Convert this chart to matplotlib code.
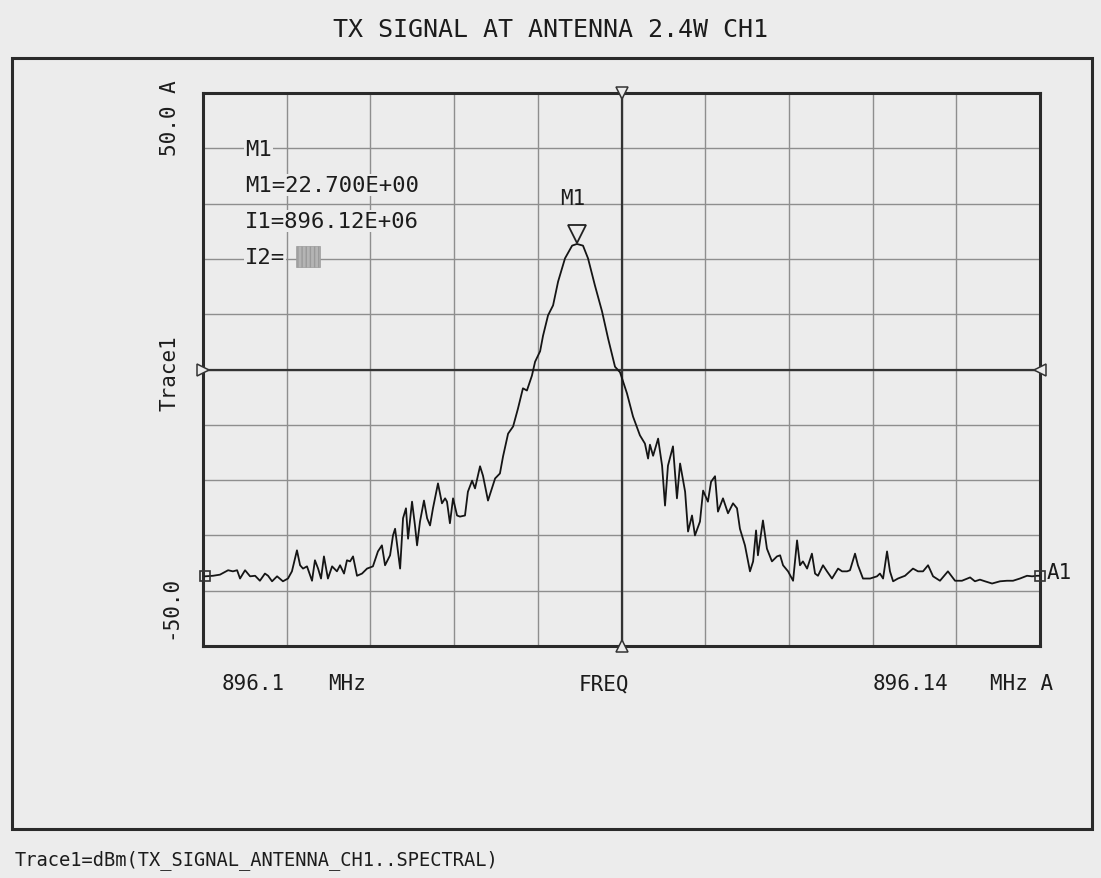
import numpy as np
import matplotlib
matplotlib.use("Agg")
import matplotlib.pyplot as plt
import matplotlib.patches as patches
import matplotlib.transforms as mtransforms

W, H = 1101, 879

# trace: offset from 896.10 MHz in kHz, level in dBm
offset_khz = [
    0.10, 0.48, 0.81, 1.20, 1.43, 1.63, 1.77, 2.01, 2.25, 2.49, 2.72, 2.96, 3.11, 3.30, 3.54, 3.82,
    4.06, 4.25, 4.49, 4.64, 4.78, 4.97, 5.21, 5.35, 5.50, 5.64, 5.78, 5.97, 6.17, 6.40, 6.55, 6.74,
    6.88, 7.03, 7.17, 7.36, 7.60, 7.84, 8.12, 8.36, 8.55, 8.70, 8.94, 9.08, 9.18, 9.42, 9.56, 9.70,
    9.80, 9.99, 10.13, 10.23, 10.37, 10.56, 10.71, 10.85, 10.99, 11.23, 11.42, 11.57, 11.66, 11.80,
    11.95, 12.14, 12.28, 12.52, 12.66, 12.86, 13.00, 13.24, 13.38, 13.62, 13.81, 13.96, 14.19, 14.34,
    14.58, 14.82, 15.05, 15.29, 15.48, 15.72, 15.87, 16.11, 16.25, 16.49, 16.73, 16.97, 17.30, 17.64,
    17.87, 18.16, 18.40, 18.73, 19.07, 19.36, 19.69, 19.93, 20.26, 20.55, 20.88, 21.12, 21.27, 21.36,
    21.51, 21.75, 21.94, 22.08, 22.22, 22.46, 22.65, 22.80, 23.04, 23.18, 23.37, 23.51, 23.75, 23.90,
    24.13, 24.28, 24.47, 24.61, 24.85, 25.09, 25.33, 25.52, 25.66, 25.90, 26.14, 26.29, 26.43, 26.52,
    26.76, 26.95, 27.19, 27.43, 27.58, 27.72, 27.96, 28.20, 28.39, 28.53, 28.67, 28.87, 29.10, 29.25,
    29.39, 29.63, 29.82, 30.06, 30.35, 30.54, 30.78, 30.92, 31.16, 31.30, 31.54, 31.88, 32.21, 32.35,
    32.50, 32.69, 32.83, 32.98, 33.21, 33.55, 33.93, 34.17, 34.41, 34.65, 34.89, 35.22, 35.60, 35.94,
    36.27, 36.66, 36.89, 37.13, 37.37, 37.71, 38.09, 38.42, 38.71, 39.04, 39.38, 39.62, 39.86, 40.00,
]
level_dbm = [
    -37.4, -37.3, -37.1, -36.3, -36.5, -36.3, -37.8, -36.3, -37.4, -37.3, -38.2, -36.9, -37.3, -38.3, -37.4, -38.3,
    -37.8, -36.5, -32.7, -35.4, -36.0, -35.6, -38.2, -34.5, -36.0, -37.8, -33.8, -37.8, -35.6, -36.5, -35.4, -36.9,
    -34.5, -34.7, -33.8, -37.3, -36.9, -36.0, -35.6, -32.9, -31.8, -35.4, -33.6, -30.0, -28.8, -36.0, -26.9, -25.1,
    -30.6, -23.9, -28.2, -31.8, -27.5, -23.7, -26.9, -28.2, -25.1, -20.6, -24.2, -23.3, -23.9, -27.8,
    -23.3, -26.4, -26.6, -26.4, -22.1, -20.1, -21.5, -17.5, -19.2, -23.7, -21.5, -19.7, -18.8, -15.7,
    -11.6, -10.3, -7.1, -3.4, -3.8, -1.1, 1.4, 3.3, 6.1, 9.8, 11.6, 15.9, 20.1, 22.4,
    22.7, 22.4, 20.1, 15.2, 10.5, 5.6, 0.5, -0.5, -4.3, -8.5, -11.9, -13.4, -16.1, -13.6,
    -15.6, -12.5, -17.4, -24.6, -17.4, -13.9, -23.3, -17.0, -22.1, -29.3, -26.4, -30.0, -27.5, -21.9,
    -23.9, -20.3, -19.3, -25.7, -23.3, -26.0, -24.2, -25.1, -28.8, -31.8, -36.5, -34.7, -29.1, -33.6,
    -27.3, -32.4, -34.7, -33.8, -33.6, -35.4, -36.5, -38.2, -30.9, -35.4, -34.7, -36.0, -33.3, -36.9,
    -37.3, -35.4, -36.5, -37.8, -36.0, -36.5, -36.5, -36.3, -33.3, -35.4, -37.8, -37.8, -37.4, -36.9,
    -37.8, -32.9, -36.5, -38.3, -37.8, -37.3, -36.0, -36.5, -36.5, -35.4, -37.4, -38.2, -36.5, -38.2,
    -38.2, -37.6, -38.3, -38.0, -38.3, -38.7, -38.3, -38.2, -38.2, -37.8, -37.3, -37.4, -37.3, -37.3,
]
start_mhz = 896.10
stop_mhz = 896.14
ref_top, ref_bottom = 50.0, -50.0

marker_lines = ["M1", "M1=22.700E+00", "I1=896.12E+06", "I2="]
title = "TX SIGNAL AT ANTENNA 2.4W CH1"
footer = "Trace1=dBm(TX_SIGNAL_ANTENNA_CH1..SPECTRAL)"

freq = start_mhz + np.array(offset_khz) / 1000.0
level = np.array(level_dbm)

bg = "#ececec"
ink = "#1c1c1c"
mono = "DejaVu Sans Mono"

fig = plt.figure(figsize=(W / 100, H / 100), dpi=100, facecolor=bg)


def fx(x):
    return x / W


def fy(y):
    return 1 - y / H


# outer frame
fig.patches.append(patches.Rectangle((fx(12), fy(830)), fx(1092) - fx(12), fy(59) - fy(830),
                                     transform=fig.transFigure, fill=False, lw=2.2, ec="#2a2a2a"))

ax = fig.add_axes([fx(203), fy(647), fx(1040) - fx(203), fy(94) - fy(647)])
ax.set_facecolor(bg)
ax.set_xlim(start_mhz, stop_mhz)
ax.set_ylim(ref_bottom, ref_top)
ax.set_xticks(np.linspace(start_mhz, stop_mhz, 11))
ax.set_yticks(np.linspace(ref_bottom, ref_top, 11))
ax.tick_params(length=0, labelbottom=False, labelleft=False)
ax.grid(True, color="#8e8e8e", lw=1.0)
for s in ax.spines.values():
    s.set_linewidth(2.2)
    s.set_color("#2a2a2a")

xc = (start_mhz + stop_mhz) / 2
yc = (ref_top + ref_bottom) / 2
ax.axvline(xc, color="#333333", lw=1.6)
ax.axhline(yc, color="#333333", lw=1.6)

# center markers on the frame
for xm, ym, mk in [(xc, ref_top, "v"), (xc, ref_bottom, "^"), (start_mhz, yc, ">"), (stop_mhz, yc, "<")]:
    ax.plot(xm, ym, marker=mk, ms=9, mfc=bg, mec="#333333", mew=1.1, clip_on=False, zorder=5)

ax.plot(freq, level, color="#151515", lw=1.3, zorder=4)

# end markers
ax.plot(freq[0], level[0], marker="s", ms=6.5, mfc="none", mec="#333333", mew=1.2, clip_on=False, zorder=6)
ax.plot(freq[-1], level[-1], marker="s", ms=6.5, mfc="none", mec="#333333", mew=1.2, clip_on=False, zorder=6)
ax.annotate("A1", (freq[-1], level[-1]), xytext=(5, 3), textcoords="offset points",
            fontsize=15, family=mono, color=ink, va="center", ha="left", annotation_clip=False)

# peak marker M1
ip = int(np.argmax(level))
up = mtransforms.offset_copy(ax.transData, fig=fig, x=0, y=7, units="points")
ax.plot(freq[ip], level[ip], marker="v", ms=13, mfc=bg, mec="#222222", mew=1.3, transform=up, zorder=6)
ax.annotate("M1", (freq[ip], level[ip]), xytext=(-3, 26), textcoords="offset points",
            fontsize=15, family=mono, color=ink, ha="center", va="bottom")

# marker readout block
for i, t in enumerate(marker_lines):
    fig.text(fx(245), fy(150 + i * 36), t, fontsize=16, family=mono, color=ink,
             ha="left", va="center", bbox=dict(fc=bg, ec="none", pad=1))
fig.patches.append(patches.Rectangle((fx(296), fy(268)), fx(320) - fx(296), fy(247) - fy(268),
                                     transform=fig.transFigure, fc="#b4b4b4", ec="#9a9a9a",
                                     hatch="||||", lw=0.5))

# axis labels
fig.text(fx(170), fy(118), "50.0 A", rotation=90, fontsize=15, family=mono, color=ink, ha="center", va="center")
fig.text(fx(170), fy(373), "Trace1", rotation=90, fontsize=15, family=mono, color=ink, ha="center", va="center")
fig.text(fx(170), fy(607), "-50.0", rotation=90, fontsize=15, family=mono, color=ink, ha="center", va="center")

fig.text(fx(222), fy(684), "896.1", fontsize=15, family=mono, color=ink, ha="left", va="center")
fig.text(fx(328), fy(684), "MHz", fontsize=15, family=mono, color=ink, ha="left", va="center")
fig.text(fx(604), fy(684), "FREQ", fontsize=15, family=mono, color=ink, ha="center", va="center")
fig.text(fx(873), fy(684), "896.14", fontsize=15, family=mono, color=ink, ha="left", va="center")
fig.text(fx(990), fy(684), "MHz A", fontsize=15, family=mono, color=ink, ha="left", va="center")

fig.text(0.5, fy(30), title, fontsize=18, family=mono, color=ink, ha="center", va="center")
fig.text(fx(15), fy(860), footer, fontsize=13.5, family=mono, color=ink, ha="left", va="center")

fig.savefig("out.png", dpi=100, facecolor=bg)
